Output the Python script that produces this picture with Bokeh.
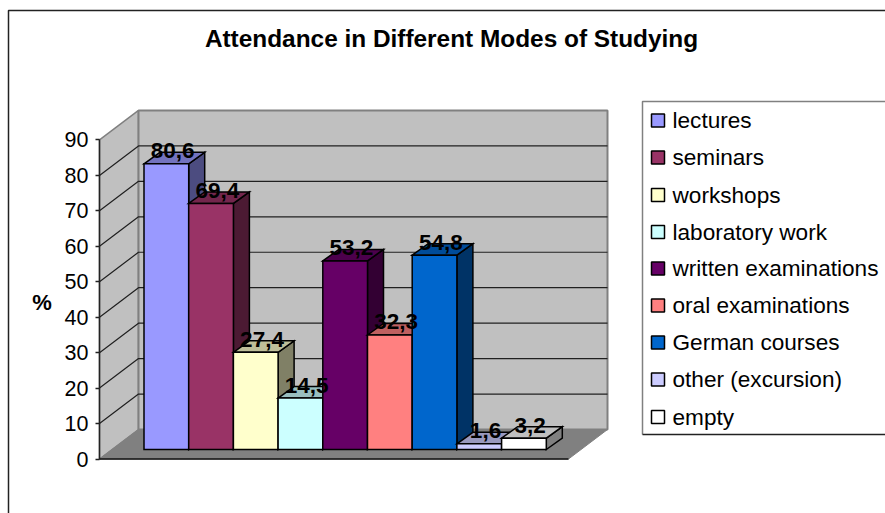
from bokeh.core.properties import value
from bokeh.embed import file_html
from bokeh.models import FixedTicker, LinearAxis, Range1d
from bokeh.plotting import figure
from bokeh.resources import INLINE

title_text = "Attendance in Different Modes of Studying"
axis_title = "%"
categories = ["lectures", "seminars", "workshops", "laboratory work",
              "written examinations", "oral examinations", "German courses",
              "other (excursion)", "empty"]
percentages = [80.6, 69.4, 27.4, 14.5, 53.2, 32.3, 54.8, 1.6, 3.2]
value_labels = ["80,6", "69,4", "27,4", "14,5", "53,2", "32,3", "54,8", "1,6", "3,2"]
bar_colors = ["#9999FF", "#993366", "#FFFFCC", "#CCFFFF", "#660066",
              "#FF8080", "#0066CC", "#CCCCFF", "#FFFFFF"]
y_ticks = [0, 10, 20, 30, 40, 50, 60, 70, 80, 90]

WIDTH, HEIGHT = 885, 513
FONT = value("Liberation Sans")

# Scale: x counts bar slots from the first bar's left edge, y counts percent
# from the axis zero.
PX_PER_SLOT = 44.7
PX_PER_PCT = 3.545
LEFT_PX = 143.5
ZERO_PX = 458.5


def X(px):
    return (px - LEFT_PX) / PX_PER_SLOT


def Y(py):
    return (ZERO_PX - py) / PX_PER_PCT


def shade(color, factor):
    r, g, b = (int(color[i:i + 2], 16) for i in (1, 3, 5))
    return "#%02X%02X%02X" % (round(r * factor), round(g * factor), round(b * factor))


p = figure(width=WIDTH, height=HEIGHT, output_backend="svg", toolbar_location=None,
           x_range=Range1d(X(0), X(WIDTH)), y_range=Range1d(Y(HEIGHT), Y(0)),
           min_border=0, outline_line_color=None,
           background_fill_color="white", border_fill_color="white")
p.xaxis.visible = False
p.yaxis.visible = False
p.grid.visible = False

# Chart frame, cropped by the page on the right and at the bottom
p.line([X(8), X(8), X(WIDTH)], [Y(HEIGHT), Y(10), Y(10)],
       line_color="#222222", line_width=1.5)

# Box walls and floor
FRONT_L, FRONT_R, BACK_L, BACK_R = X(99), X(568), X(138), X(607)
DEPTH_Y = Y(429) - Y(458.5)
TOP = y_ticks[-1]
p.patch([FRONT_L, BACK_L, BACK_L, FRONT_L], [0, DEPTH_Y, TOP + DEPTH_Y, TOP],
        fill_color="#C0C0C0", line_color="#808080", line_width=1.5)
p.patch([BACK_L, BACK_R, BACK_R, BACK_L], [DEPTH_Y, DEPTH_Y, TOP + DEPTH_Y, TOP + DEPTH_Y],
        fill_color="#C0C0C0", line_color="#808080", line_width=2)
p.patch([FRONT_L, FRONT_R, BACK_R, BACK_L], [0, 0, DEPTH_Y, DEPTH_Y],
        fill_color="#808080", line_color="#808080", line_width=1)

# Gridlines across the side wall and the back wall
for t in y_ticks[1:-1]:
    p.line([FRONT_L, BACK_L, BACK_R], [t, t + DEPTH_Y, t + DEPTH_Y],
           line_color="#202020", line_width=1.2)

# Value axis along the front of the side wall
axis = LinearAxis(ticker=FixedTicker(ticks=y_ticks), bounds=(0, TOP),
                  major_tick_in=0, major_tick_out=4, minor_tick_line_color=None,
                  axis_line_color="#222222", axis_line_width=1.5,
                  major_tick_line_color="#222222", major_tick_line_width=1.5,
                  major_label_text_font="Liberation Sans",
                  major_label_text_font_size="21.5px", major_label_text_color="black",
                  major_label_standoff=7)
axis.fixed_location = FRONT_L
p.add_layout(axis, "left")

# Floor's front edge
p.line([FRONT_L, FRONT_R], [0, 0], line_color="#111111", line_width=1.5)

# Bars, left to right so each one covers the previous side face
BASE = Y(449)
DX = 16 / PX_PER_SLOT
DY = 11.5 / PX_PER_PCT
for i, (v, c) in enumerate(zip(percentages, bar_colors)):
    top = BASE + v
    edge = dict(line_color="black", line_width=1.5, line_join="miter")
    p.patch([i + 1, i + 1 + DX, i + 1 + DX, i + 1],
            [BASE, BASE + DY, top + DY, top], fill_color=shade(c, 0.5), **edge)
    p.patch([i, i + DX, i + 1 + DX, i + 1],
            [top, top + DY, top + DY, top], fill_color=shade(c, 0.75), **edge)
    p.patch([i, i + 1, i + 1, i], [BASE, BASE, top, top], fill_color=c, **edge)

# Value labels above each bar
p.text(x=[i + 0.5 + 0.14 for i in range(len(percentages))],
       y=[BASE + v + 13 / PX_PER_PCT for v in percentages],
       text=value_labels, text_font=FONT, text_font_style="bold",
       text_font_size="22.5px", text_align="center", text_baseline="middle",
       text_color="black")

# Chart and axis titles
p.text(x=[X(451)], y=[Y(38)], text=[title_text], text_font=FONT, text_font_style="bold",
       text_font_size="24.4px", text_align="center", text_baseline="middle",
       text_color="black")
p.text(x=[X(41.5)], y=[Y(302)], text=[axis_title], text_font=FONT, text_font_style="bold",
       text_font_size="22px", text_align="center", text_baseline="middle",
       text_color="black")

# Legend box, open on the page's right edge
p.line([X(WIDTH), X(642), X(642)], [Y(101), Y(101), Y(434)], line_color="#808080", line_width=1.5)
p.line([X(642), X(WIDTH)], [Y(434), Y(434)], line_color="#222222", line_width=1.5)

legend_rows = [120, 157, 194.5, 231.5, 268, 305, 342, 379, 416.5]
for row, name, c in zip(legend_rows, categories, bar_colors):
    p.patch([X(651), X(664), X(664), X(651)],
            [Y(row - 6.5), Y(row - 6.5), Y(row + 6.5), Y(row + 6.5)],
            fill_color=c, line_color="black", line_width=1.5)
    p.text(x=[X(672)], y=[Y(row)], text=[name], text_font=FONT, text_font_size="22.6px",
           text_align="left", text_baseline="middle", text_color="black")

open("out.html", "w").write(file_html(p, INLINE))
